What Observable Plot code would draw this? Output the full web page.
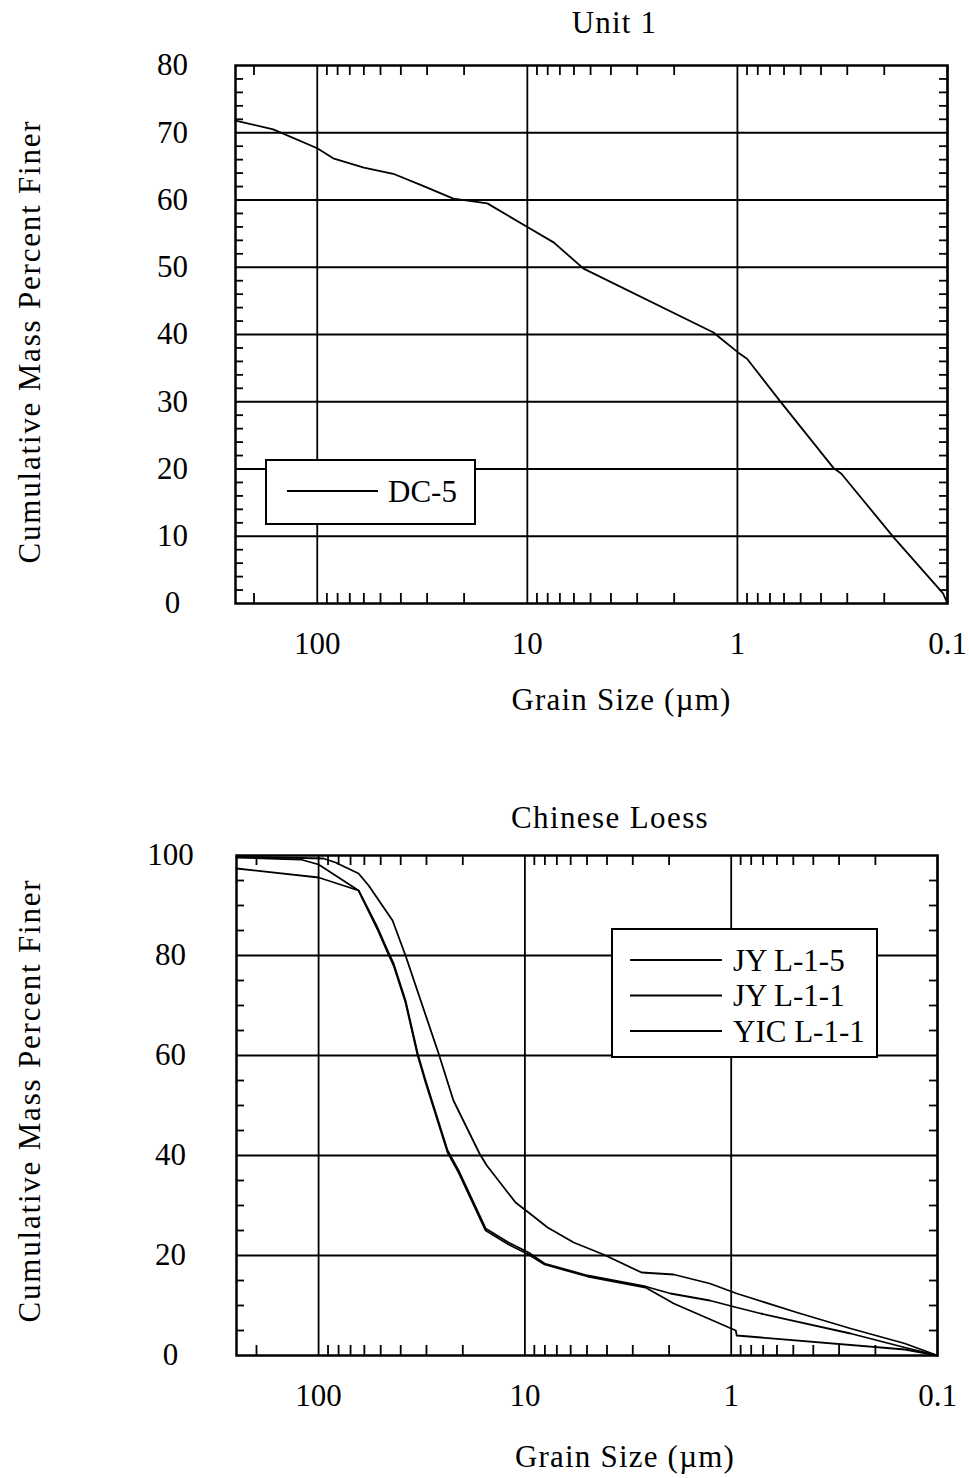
<!DOCTYPE html>
<html>
<head>
<meta charset="utf-8">
<script src="https://cdn.jsdelivr.net/npm/d3@7"></script>
<script src="https://cdn.jsdelivr.net/npm/@observablehq/plot@0.6"></script>
<style>
html, body { margin: 0; padding: 0; background: #fff; }
#chart svg { display: block; }
</style>
</head>
<body>
<div id="chart"></div>
<script>
// ---- Axis ticks ----
const xTickValues = [100, 10, 1, 0.1];
const xTickLabels = ["100", "10", "1", "0.1"];
const xMinorTicks = [200, 90, 80, 70, 60, 50, 40, 30, 20, 9, 8, 7, 6, 5, 4, 3, 2, 0.9, 0.8, 0.7, 0.6, 0.5, 0.4, 0.3, 0.2];

const unitYTicks = [0, 10, 20, 30, 40, 50, 60, 70, 80];
const unitYGrid = [10, 20, 30, 40, 50, 60, 70];
const unitYMinor = [2, 4, 6, 8, 12, 14, 16, 18, 22, 24, 26, 28, 32, 34, 36, 38, 42, 44, 46, 48, 52, 54, 56, 58, 62, 64, 66, 68, 72, 74, 76, 78];

const loessYTicks = [0, 20, 40, 60, 80, 100];
const loessYGrid = [20, 40, 60, 80];
const loessYMinor = [5, 10, 15, 25, 30, 35, 45, 50, 55, 65, 70, 75, 85, 90, 95];

// ---- Unit 1: DC-5 ----
const dc5Size = [245, 162, 100, 84, 60, 43.5, 32, 22.5, 15.5, 9.9, 7.5, 5.4, 1.3, 1.2, 0.99, 0.9, 0.62, 0.35, 0.32, 0.18, 0.105, 0.1];
const dc5Pct  = [71.8, 70.5, 67.7, 66.2, 64.8, 63.9, 62.2, 60.2, 59.5, 55.9, 53.7, 49.8, 40.3, 39.4, 37.3, 36.4, 29.9, 20.2, 19.3, 9.8, 1.5, 0];

// ---- Chinese Loess ----
const jyL15Size = [250, 94.6, 82.8, 64, 57.2, 43.8, 37.9, 32.0, 26.2, 22.2, 16.6, 15.3, 11.1, 9.6, 7.76, 5.8, 4.16, 2.72, 1.90, 1.27, 0.94, 0.48, 0.264, 0.144, 0.1];
const jyL15Pct  = [99.8, 99.4, 98.6, 96.4, 94, 87, 80, 71, 60.4, 51, 40.4, 38, 30.6, 28.6, 25.6, 22.6, 20.2, 16.6, 16.2, 14.4, 12.4, 8.6, 5.4, 2.4, 0];

const jyL11Size = [250, 100, 64, 51.8, 46.3, 43.3, 37.9, 33.1, 30.3, 23.7, 20.96, 15.5, 12.0, 9.6, 8.03, 4.97, 2.60, 1.97, 1.27, 0.94, 0.72, 0.264, 0.144, 0.1];
const jyL11Pct  = [97.4, 95.6, 93, 85.6, 81, 78.4, 71, 60.4, 55, 41, 37, 25.4, 22.6, 20.6, 18.4, 16, 13.8, 12.4, 11, 9.6, 8.4, 4.4, 1.6, 0];

const yicL11Size = [250, 122, 100, 82.8, 64, 51.8, 46.3, 43.3, 37.9, 33.1, 30.3, 23.7, 20.96, 15.5, 12.0, 9.6, 8.03, 4.97, 2.60, 1.90, 0.95, 0.94, 0.144, 0.1];
const yicL11Pct  = [99.6, 99.2, 98.2, 96, 93, 85.2, 80.6, 78, 70.6, 60, 54.6, 40.6, 36.6, 25, 22.2, 20.2, 18.2, 15.8, 13.6, 10.4, 5.0, 4.0, 1.2, 0];

const unitSeries = [{name: "DC-5", size: dc5Size, pct: dc5Pct}];
const loessSeries = [
  {name: "JY L-1-5", size: jyL15Size, pct: jyL15Pct},
  {name: "JY L-1-1", size: jyL11Size, pct: jyL11Pct},
  {name: "YIC L-1-1", size: yicL11Size, pct: yicL11Pct}
];

const yTitle = "Cumulative Mass Percent Finer";
const xTitle = "Grain Size (µm)";

function toRows(series) {
  return series.flatMap(s => s.size.map((v, i) => ({series: s.name, size: v, pct: s.pct[i]})));
}

const FONT = "'Liberation Serif', 'Times New Roman', serif";
const FS = 31;
const W = 969;

function legendRender(box, labels) {
  return (index, scales, values, dims) => {
    const g = d3.create("svg:g");
    const x0 = dims.marginLeft + box.dx, y0 = dims.marginTop + box.dy;
    g.append("rect").attr("x", x0).attr("y", y0).attr("width", box.w).attr("height", box.h)
      .attr("fill", "white").attr("stroke", "black").attr("stroke-width", 2);
    labels.forEach((label, i) => {
      const y = y0 + box.row0 + i * box.rowStep;
      g.append("line").attr("x1", x0 + box.lx1).attr("x2", x0 + box.lx2)
        .attr("y1", y).attr("y2", y).attr("stroke", "black").attr("stroke-width", 2);
      g.append("text").attr("x", x0 + box.tx).attr("y", y).attr("dy", "0.34em")
        .attr("text-anchor", "start")
        .attr("font-size", FS).attr("fill", "black").text(label);
    });
    return g.node();
  };
}

function panel(cfg) {
  const frameH = cfg.height - cfg.mt - cfg.mb;
  const frameW = W - cfg.ml - cfg.mr;
  const tick = 10, ytick = 8;
  return Plot.plot({
    width: W,
    height: cfg.height,
    marginLeft: cfg.ml, marginRight: cfg.mr, marginTop: cfg.mt, marginBottom: cfg.mb,
    style: {fontFamily: FONT, fontSize: FS + "px", background: "white", color: "black", overflow: "visible"},
    x: {type: "log", domain: cfg.xDomain, axis: null},
    y: {domain: cfg.yDomain, axis: null},
    marks: [
      Plot.ruleY(cfg.yGrid, {y: d => d, stroke: "black", strokeWidth: 1.8}),
      Plot.ruleX(xTickValues, {x: d => d, stroke: "black", strokeWidth: 1.8}),
      Plot.ruleX(xMinorTicks, {x: d => d, insetBottom: frameH - tick, stroke: "black", strokeWidth: 1.8}),
      Plot.ruleX(xMinorTicks, {x: d => d, insetTop: frameH - tick, stroke: "black", strokeWidth: 1.8}),
      Plot.ruleY(cfg.yMinor, {y: d => d, insetRight: frameW - ytick, stroke: "black", strokeWidth: 1.8}),
      Plot.ruleY(cfg.yMinor, {y: d => d, insetLeft: frameW - ytick, stroke: "black", strokeWidth: 1.8}),
      Plot.line(toRows(cfg.series), {x: "size", y: "pct", z: "series", stroke: "black", strokeWidth: 1.8}),
      legendRender(cfg.legend, cfg.series.map(s => s.name)),
      Plot.frame({stroke: "black", strokeWidth: 2.5}),
      Plot.text(xTickValues, {x: d => d, text: (d, i) => xTickLabels[i], frameAnchor: "bottom", lineAnchor: "middle", dy: 41, fontSize: FS, fill: "black"}),
      Plot.text(cfg.yTicks, {y: d => d, text: d => String(d), frameAnchor: "left", dx: cfg.yLabelDx, textAnchor: "middle", lineAnchor: "middle", fontSize: FS, fill: "black"}),
      Plot.text([cfg.title], {text: d => d, frameAnchor: "top", lineAnchor: "middle", dx: cfg.titleDx, dy: cfg.titleDy, fontSize: FS, fill: "black"}),
      Plot.text([xTitle], {text: d => d, frameAnchor: "bottom", lineAnchor: "middle", dx: cfg.xTitleDx, dy: cfg.xTitleDy, fontSize: FS, fill: "black"}),
      Plot.text([yTitle], {text: d => d, frameAnchor: "left", textAnchor: "middle", lineAnchor: "middle", rotate: -90, dx: cfg.yTitleDx, dy: cfg.yTitleDy, fontSize: FS, fill: "black"})
    ]
  });
}

const unitChart = panel({
  height: 740, ml: 235, mr: 22, mt: 65, mb: 137,
  xDomain: [245, 0.1], yDomain: [0, 80],
  yTicks: unitYTicks, yGrid: unitYGrid, yMinor: unitYMinor,
  series: unitSeries,
  title: "Unit 1", titleDx: 23, titleDy: -42,
  xTitleDx: 30, xTitleDy: 97,
  yLabelDx: -63, yTitleDx: -205, yTitleDy: 7,
  legend: {dx: 31, dy: 395, w: 209, h: 64, row0: 31, rowStep: 0, lx1: 21, lx2: 112, tx: 122}
});

const loessChart = panel({
  height: 738, ml: 236, mr: 32, mt: 115, mb: 123,
  xDomain: [250, 0.1], yDomain: [0, 100],
  yTicks: loessYTicks, yGrid: loessYGrid, yMinor: loessYMinor,
  series: loessSeries,
  title: "Chinese Loess", titleDx: 23, titleDy: -37,
  xTitleDx: 38, xTitleDy: 102,
  yLabelDx: -66, yTitleDx: -206, yTitleDy: -5,
  legend: {dx: 376, dy: 74, w: 265, h: 128, row0: 31, rowStep: 35.5, lx1: 18, lx2: 110, tx: 121}
});

const chart = document.getElementById("chart");
chart.appendChild(unitChart);
chart.appendChild(loessChart);

// widen the title texts a little, as in the original typeface
const spacing = new Map([[yTitle, "1.8px"], [xTitle, "1.2px"], ["Unit 1", "1.2px"], ["Chinese Loess", "1.4px"]]);
d3.select(chart).selectAll("text").each(function() {
  const s = spacing.get(this.textContent);
  if (s) this.setAttribute("letter-spacing", s);
});
</script>
</body>
</html>
